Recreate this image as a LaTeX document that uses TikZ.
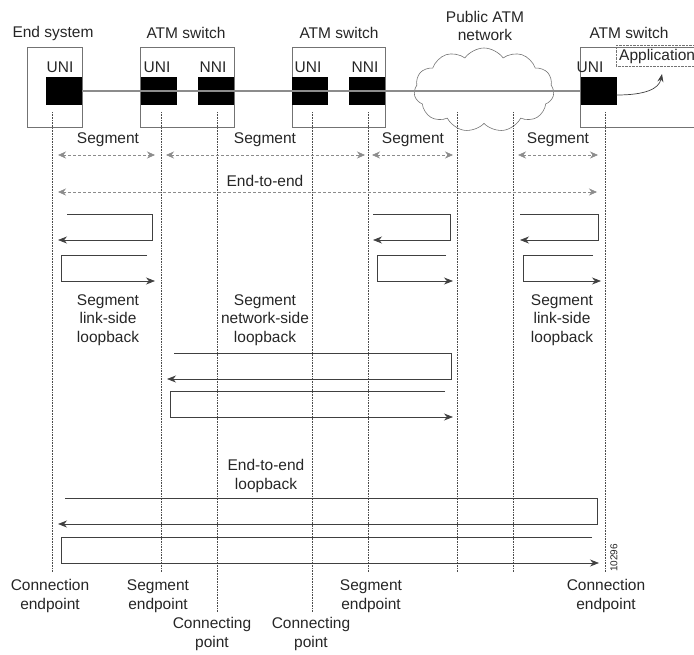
\documentclass[tikz,border=0pt]{standalone}
\usepackage{fontspec}
\setmainfont{Liberation Sans}
\usetikzlibrary{arrows.meta,positioning,shapes.symbols}

\begin{document}
\begin{tikzpicture}[
    x=1pt,
    y=-1pt,
    font=\fontsize{15.5}{18.5}\selectfont,
    device/.style={draw=black!55,line width=0.6pt,inner sep=0pt},
    port/.style={fill=black,minimum width=36,minimum height=28,inner sep=0pt},
    portname/.style={text=black!85,inner sep=0pt},
    title/.style={align=center,text=black!85},
    caption/.style={align=center,text=black!85},
    link/.style={draw=black!45,line width=2pt},
    lane/.style={draw=black!70,densely dotted,line width=0.6pt},
    span/.style={{Stealth[length=8pt,width=7pt]}-{Stealth[length=8pt,width=7pt]},draw=black!45,densely dashed,line width=0.7pt},
    loopflow/.style={-{Stealth[length=9pt,width=7pt]},draw=black!75,line width=0.75pt},
    appflow/.style={-{Stealth[length=8pt,width=6pt]},draw=black!75,line width=0.7pt}
  ]
    \useasboundingbox (0,0) rectangle (694,654);

    % devices
    \node[title] at (53,33) {End system};
    \node[title] at (186,33) {ATM switch};
    \node[title] at (339,33) {ATM switch};
    \node[title] at (629,33) {ATM switch};
    \node[title] at (485,26) {Public ATM\\network};

    \node[device,minimum width=55,minimum height=80] (endsys) at (54.5,87) {};
    \node[device,minimum width=94,minimum height=80] (switchA) at (187,87) {};
    \node[device,minimum width=93,minimum height=80] (switchB) at (338.5,87) {};
    \node[device,minimum width=120,minimum height=80] (switchC) at (640,87) {};
    \node[cloud,draw=black!55,line width=0.6pt,cloud puffs=11,cloud puff arc=110,aspect=1.6,
          minimum width=140,minimum height=84,inner sep=0pt] (public) at (484,90) {};

    \node[port] (esuni) at (64,91) {};
    \node[port] (auni) at (158.5,91) {};
    \node[port] (anni) at (215.5,91) {};
    \node[port] (buni) at (310,91) {};
    \node[port] (bnni) at (366.5,91) {};
    \node[port] (cuni) at (598.5,91) {};

    \node[portname] at (60,67) {UNI};
    \node[portname] at (157,67) {UNI};
    \node[portname] at (213,67) {NNI};
    \node[portname] at (308,67) {UNI};
    \node[portname] at (365,67) {NNI};
    \node[portname] at (590,67) {UNI};

    \draw[link] (esuni.east) -- (cuni.west);

    \node[draw=black!55,densely dotted,anchor=west,inner xsep=3pt,minimum height=17,text=black!85] (app) at (616,56) {Application};
    \coordinate (apptip) at (662,74);
    \draw[appflow] ([yshift=-4pt]cuni.east) .. controls (645,95) and (659,89) .. (apptip);

    % lanes
    \foreach \x/\e in {52/572,161/572,217/612,312/612,368/572,457/572,513/572,605/572} {
      \draw[lane] (\x,112) -- (\x,\e);
    }

    % segments
    \foreach \a/\b/\m in {58/155/108,166/365/265,372/453/413,518/598/558} {
      \draw[span] (\a,155) -- (\b,155);
      \node[caption] at (\m,140) {Segment};
    }
    \draw[span] (58,192) -- (597,192);
    \node[caption] at (265,181) {End-to-end};

    % loopbacks
    \foreach \xa/\xb/\xt/\yt in {67/152/58/214,373/450/373/214,520/598/520/214,174/451/167/353,65/597/58/498} {
      \draw[loopflow] (\xa,\yt) -| (\xb,\yt+26) -- (\xt,\yt+26);
    }
    \foreach \xb/\xa/\xt/\yt in {147/61/155/255,446/377/453/255,593/523/601/255,445/170/453/391,592/61/599/537} {
      \draw[loopflow] (\xb,\yt) -| (\xa,\yt+26) -- (\xt,\yt+26);
    }

    \node[caption] at (108,320) {Segment\\link-side\\loopback};
    \node[caption] at (562,320) {Segment\\link-side\\loopback};
    \node[caption] at (265,320) {Segment\\network-side\\loopback};
    \node[caption] at (266,476) {End-to-end\\loopback};

    \node[caption] at (50,596) {Connection\\endpoint};
    \node[caption] at (158,596) {Segment\\endpoint};
    \node[caption] at (212,634) {Connecting\\point};
    \node[caption] at (311,634) {Connecting\\point};
    \node[caption] at (371,596) {Segment\\endpoint};
    \node[caption] at (606,596) {Connection\\endpoint};
    \node[rotate=90,font=\fontsize{10}{11}\selectfont,text=black!85] at (614,558) {10296};
  \end{tikzpicture}
\end{document}
